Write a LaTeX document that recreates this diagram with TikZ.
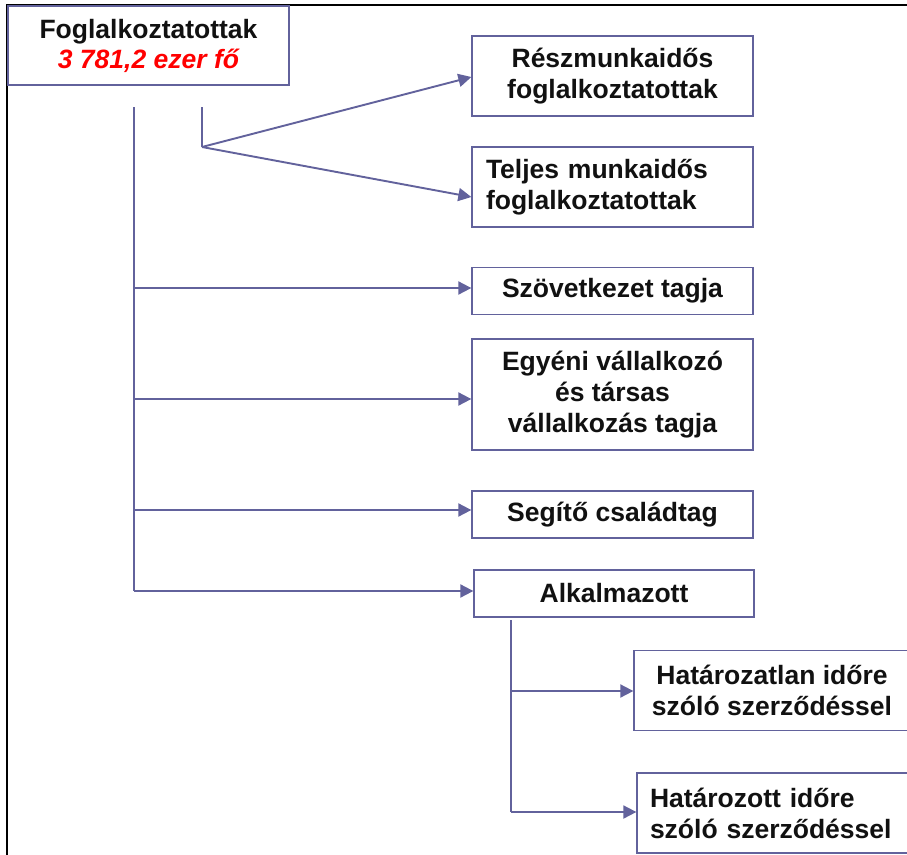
\documentclass[tikz,border=0pt]{standalone}
\usepackage{fontspec}
\setmainfont{Liberation Sans}
\usetikzlibrary{arrows.meta}
\definecolor{lc}{RGB}{98,98,156}
\definecolor{tc}{RGB}{17,17,17}
\tikzset{
  box/.style={draw=lc, line width=1.3pt, fill=white, inner sep=0pt, text=tc,
    font=\fontsize{26.5}{31}\selectfont\bfseries, align=center},
  lbox/.style={box, align=left, inner xsep=14pt, inner ysep=0pt},
  conn/.style={draw=lc, line width=1.9pt},
  arr/.style={conn, -{Triangle[length=13pt,width=13pt]}},
  frame/.style={draw=black, line width=1.5pt}
}
\begin{document}
\begin{tikzpicture}[x=1pt,y=-1pt]
\useasboundingbox (0,0) rectangle (907,854);
\clip (0,0) rectangle (907,854);
\fill[white] (0,0) rectangle (907,854);
% frame
\draw[frame] (907,5) -- (7,5) -- (7,860);
% nodes
\node[box, minimum width=281, minimum height=79] (root) at (148.5,45.5)
  {Foglalkoztatottak\\[-1pt]{\color{red}\itshape 3 781,2 ezer fő}};
\node[box, minimum width=281, minimum height=80] (resz) at (612.5,76)
  {Részmunkaidős\\foglalkoztatottak};
\node[lbox, text width=253, minimum width=281, minimum height=80] (telj) at (612.5,187)
  {Teljes munkaidős\\foglalkoztatottak};
\node[box, minimum width=281, minimum height=47] (szov) at (612.5,291)
  {Szövetkezet tagja};
\node[box, minimum width=281, minimum height=111] (egy) at (612.5,394.5)
  {Egyéni vállalkozó\\és társas\\vállalkozás tagja};
\node[box, minimum width=281, minimum height=47] (seg) at (612.5,514.5)
  {Segítő családtag};
\node[box, minimum width=280, minimum height=47] (alk) at (614,593.5)
  {Alkalmazott};
\node[box, minimum width=276, minimum height=80] (hatlan) at (772,690.5)
  {Határozatlan időre\\szóló szerződéssel};
\node[lbox, inner xsep=13pt, text width=250, minimum width=276, minimum height=80] (hatott) at (775,813)
  {Határozott időre\\szóló szerződéssel};
% junction coordinates
\coordinate (t0) at (134,107);
\coordinate (b1) at (134,288);
\coordinate (b2) at (134,399);
\coordinate (b3) at (134,510);
\coordinate (b4) at (134,591);
\coordinate (f0) at (202,107);
\coordinate (f1) at (202,147);
\coordinate (s0) at (511,620);
\coordinate (s1) at (511,691);
\coordinate (s2) at (511,812);
% connectors
\draw[conn] (t0) -- (b4);
\draw[arr] (b1) -- (b1 -| szov.west);
\draw[arr] (b2) -- (b2 -| egy.west);
\draw[arr] (b3) -- (b3 -| seg.west);
\draw[arr] (b4) -- (b4 -| alk.west);
\draw[conn] (f0) -- (f1);
\draw[arr] (f1) -- ([yshift=-1pt]resz.west);
\draw[arr] (f1) -- ([yshift=-10pt]telj.west);
\draw[conn] (s0) -- (s2);
\draw[arr] (s1) -- (s1 -| hatlan.west);
\draw[arr] (s2) -- (s2 -| hatott.west);
\end{tikzpicture}
\end{document}
